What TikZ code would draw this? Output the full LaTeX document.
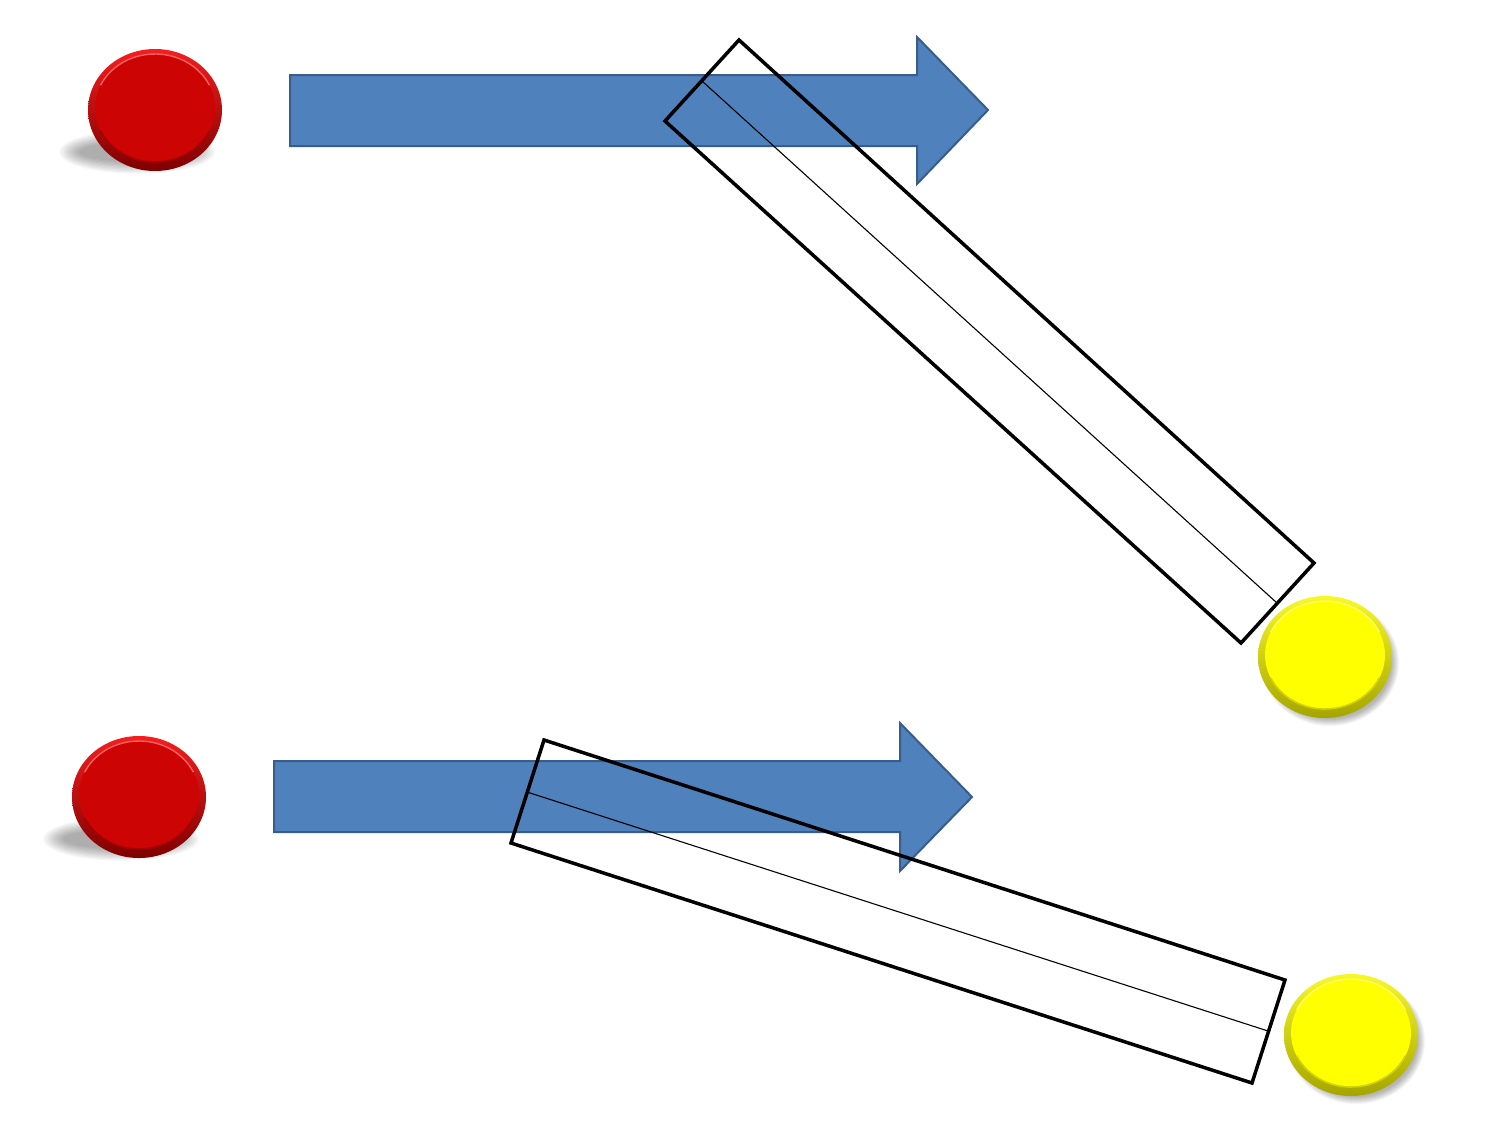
\documentclass[tikz,border=0pt]{standalone}
\usetikzlibrary{calc}
\definecolor{arrfill}{RGB}{79,129,189}
\definecolor{arrline}{RGB}{56,93,138}
\definecolor{redface}{RGB}{204,4,4}
\definecolor{redtop}{RGB}{245,30,30}
\definecolor{redbot}{RGB}{125,0,0}
\definecolor{yelface}{RGB}{255,255,0}
\definecolor{yeltop}{RGB}{248,248,40}
\definecolor{yelbot}{RGB}{165,165,0}
\tikzset{
  bluearrow/.style={fill=arrfill, draw=arrline, line width=2pt, line join=miter},
  slab/.style={draw=black, line width=3.5pt, line join=miter},
  midline/.style={draw=black, line width=1.1pt},
  pics/disc/.style n args={3}{code={
    \shade[top color=#2, bottom color=#3] (0,0) ellipse[x radius=67,y radius=61];
    \fill[#1] (0,-2) ellipse[x radius=60,y radius=54];
    \draw[#2!70!white, line width=1.4] (0,-2) ++(205:60 and 54) arc[start angle=205,end angle=335,x radius=60,y radius=54];
    \draw[#3!50!#1, line width=1.6] (0,-2) ++(25:60 and 54) arc[start angle=25,end angle=155,x radius=60,y radius=54];
  }},
  pics/leftshadow/.style={code={
    \foreach \i in {0,...,9}{\fill[black,opacity=0.035] (-18,42) ellipse[x radius={58+\i*2.2}, y radius={10+\i*1.3}];}
  }},
  pics/rightshadow/.style={code={
    \foreach \i in {0,...,7}{\fill[black,opacity=0.04] (5,6) ellipse[x radius={62+\i*1.0}, y radius={56+\i*1.0}];}
  }},
}
\begin{document}
\begin{tikzpicture}[x=1pt,y=-1pt]
\useasboundingbox (0,0) rectangle (1500,1125);
\fill[white] (0,0) rectangle (1500,1125);

% disc centres
\coordinate (r1) at (155,110);
\coordinate (y1) at (1325,657);
\coordinate (r2) at (139,797);
\coordinate (y2) at (1351,1035);

% shadows
\pic at (r1) {leftshadow};
\pic at (r2) {leftshadow};
\pic at (y1) {rightshadow};
\pic at (y2) {rightshadow};

% discs
\pic at (r1) {disc={redface}{redtop}{redbot}};
\pic at (r2) {disc={redface}{redtop}{redbot}};
\pic at (y1) {disc={yelface}{yeltop}{yelbot}};
\pic at (y2) {disc={yelface}{yeltop}{yelbot}};

% arrow 1
\draw[bluearrow] (290,75) -- (917,75) -- (917,37) -- (988,110) -- (917,184) -- (917,146) -- (290,146) -- cycle;
% arrow 2
\draw[bluearrow] (274,761) -- (900,761) -- (900,723) -- (972,797) -- (900,871) -- (900,832) -- (274,832) -- cycle;

% slab 1
\coordinate (a1) at (739,40);
\coordinate (b1) at (665,121);
\coordinate (c1) at (1241,643);
\coordinate (d1) at (1314,563);
\coordinate (m1s) at (702,81);
\coordinate (m1e) at (1277,603);
\draw[slab] (a1) -- (b1) -- (c1) -- (d1) -- cycle;
\draw[midline] (m1s) -- (m1e);

% slab 2
\coordinate (a2) at (544,740);
\coordinate (b2) at (511,843);
\coordinate (c2) at (1252,1083);
\coordinate (d2) at (1285,980);
\coordinate (m2s) at (527,792);
\coordinate (m2e) at (1268,1031);
\draw[slab] (a2) -- (b2) -- (c2) -- (d2) -- cycle;
\draw[midline] (m2s) -- (m2e);
\end{tikzpicture}
\end{document}
